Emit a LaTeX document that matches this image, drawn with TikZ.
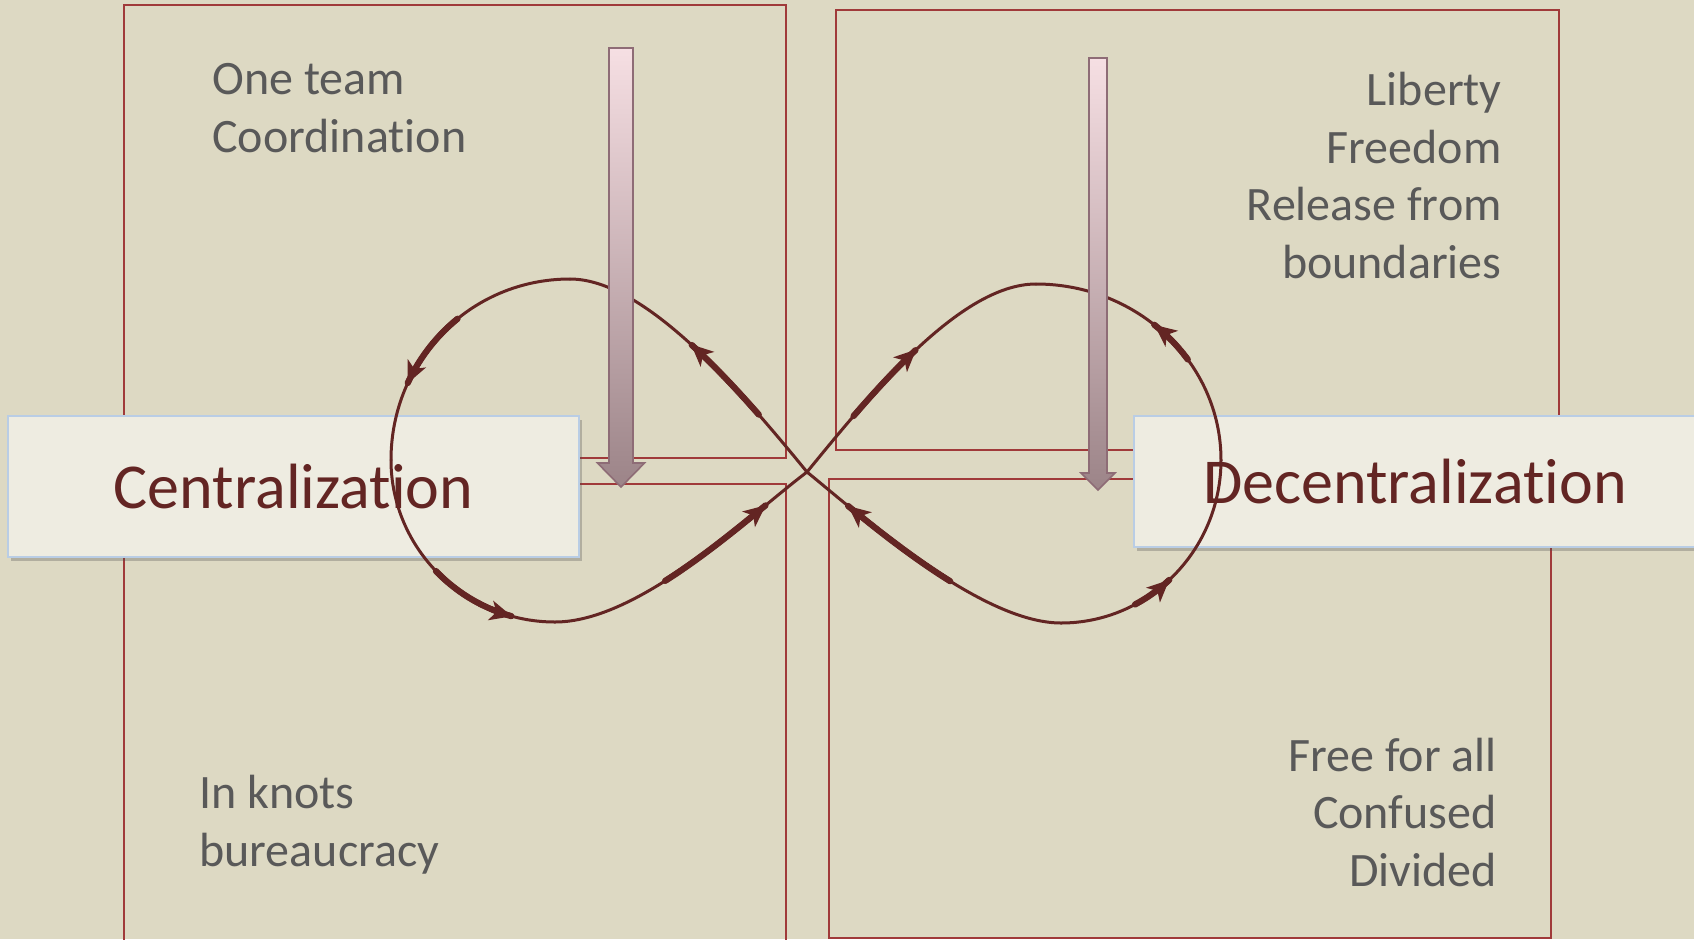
\documentclass[tikz,border=0pt]{standalone}
\usepackage{fontspec}
\setmainfont{Carlito}[Ligatures=CommonOff]
\usetikzlibrary{arrows.meta,decorations.markings,shadows}
\definecolor{bgtan}{HTML}{DDD9C3}
\definecolor{boxfill}{HTML}{EEECE1}
\definecolor{boxblue}{HTML}{B9CDE5}
\definecolor{loopred}{HTML}{632523}
\definecolor{rectred}{HTML}{A03A3A}
\definecolor{textgray}{HTML}{595959}
\definecolor{shaftpink}{HTML}{F6DFE3}
\definecolor{shaftmauve}{HTML}{9C8488}
\definecolor{shaftedge}{HTML}{8E6C76}
\tikzset{
  looptip/.tip={Stealth[length=11pt, width=10pt, inset=3pt]},
  quadrant/.style={draw=rectred, line width=0.8pt},
  termbox/.style={draw=boxblue, line width=1pt, fill=boxfill, inner sep=0pt, text=loopred,
    font=\fontsize{32}{38}\selectfont,
    drop shadow={shadow xshift=1.5pt, shadow yshift=-2pt, opacity=0.3, fill=black!70}},
  sidetext/.style={text=textgray, font=\fontsize{24}{28.75}\selectfont, inner sep=0pt},
  loopline/.style={draw=loopred, color=loopred, line width=1.5pt, line cap=round},
  % thick run from #1 to #2, tip at #2 pointing along the path
  fwdmark/.style 2 args={postaction={decorate, decoration={markings,
    mark=between positions #1 and #2 step 0.6pt with {\fill (0,0) circle (1.6pt);},
    mark=at position #2 with {\arrow{looptip}}}}},
  % thick run from #1 to #2, tip at #1 pointing against the path
  backmark/.style 2 args={postaction={decorate, decoration={markings,
    mark=between positions #1 and #2 step 0.6pt with {\fill (0,0) circle (1.6pt);},
    mark=at position #1 with {\arrowreversed{looptip}}}}},
  downshaft/.style={draw=shaftedge, line width=0.8pt, top color=shaftpink, bottom color=shaftmauve}
}
\begin{document}
\begin{tikzpicture}[x=0.5pt, y=-0.5pt]
  \useasboundingbox (0,0) rectangle (1694,939);
  \fill[bgtan] (0,0) rectangle (1694,939);

  % four quadrants
  \draw[quadrant] (124,5) rectangle (786,458);
  \draw[quadrant] (836,10) rectangle (1559,450);
  \draw[quadrant] (124,484) rectangle (786,945);
  \draw[quadrant] (829,479) rectangle (1551,938);

  % quadrant texts (anchored on the last baseline)
  \node[sidetext, anchor=base west, align=left] (unity) at (212,152) {One team\\Coordination};
  \node[sidetext, anchor=base east, align=right] (liberty) at (1502,278) {Liberty\\Freedom\\Release from\\boundaries};
  \node[sidetext, anchor=base west, align=left] (knots) at (199,866) {In knots\\bureaucracy};
  \node[sidetext, anchor=base east, align=right] (divided) at (1497,886) {Free for all\\Confused\\Divided};

  % the two poles
  \node[termbox, minimum width=285.5pt, minimum height=70.5pt] (central) at (293.5,486.5) {Centralization};
  \node[termbox, minimum width=281pt, minimum height=65.5pt] (decentral) at (1415,481.5) {Decentralization};

  % figure of eight
  \coordinate (mid) at (807,472);
  \coordinate (ltop) at (570,279);
  \coordinate (lleft) at (391,460);
  \coordinate (lbot) at (555,622);
  \coordinate (rtop) at (1036,284);
  \coordinate (rright) at (1221,460);
  \coordinate (rbot) at (1061,623);
  \draw[loopline, fwdmark={0.24}{0.55}] (mid) .. controls (740,390) and (645,279) .. (ltop);
  \draw[loopline, fwdmark={0.43}{0.72}] (ltop) .. controls (470,279) and (391,360) .. (lleft);
  \draw[loopline, fwdmark={0.48}{0.83}] (lleft) .. controls (391,549) and (465,622) .. (lbot);
  \draw[loopline, fwdmark={0.40}{0.82}] (lbot) .. controls (640,622) and (750,515) .. (mid);
  \draw[loopline, fwdmark={0.24}{0.54}] (mid) .. controls (870,395) and (960,284) .. (rtop);
  \draw[loopline, backmark={0.45}{0.62}] (rtop) .. controls (1138,284) and (1221,363) .. (rright);
  \draw[loopline, backmark={0.53}{0.70}] (rright) .. controls (1221,550) and (1149,623) .. (rbot);
  \draw[loopline, fwdmark={0.40}{0.82}] (rbot) .. controls (980,623) and (860,515) .. (mid);

  % downward arrows
  \foreach \ax/\atop/\aw/\ah/\abase/\atip in {621/48/12/23.5/463/487, 1098/58/9/17/473/490}
    \shade[downshaft] (\ax-\aw,\atop) -- (\ax+\aw,\atop) -- (\ax+\aw,\abase) -- (\ax+\ah,\abase)
      -- (\ax,\atip) -- (\ax-\ah,\abase) -- (\ax-\aw,\abase) -- cycle;
\end{tikzpicture}
\end{document}
